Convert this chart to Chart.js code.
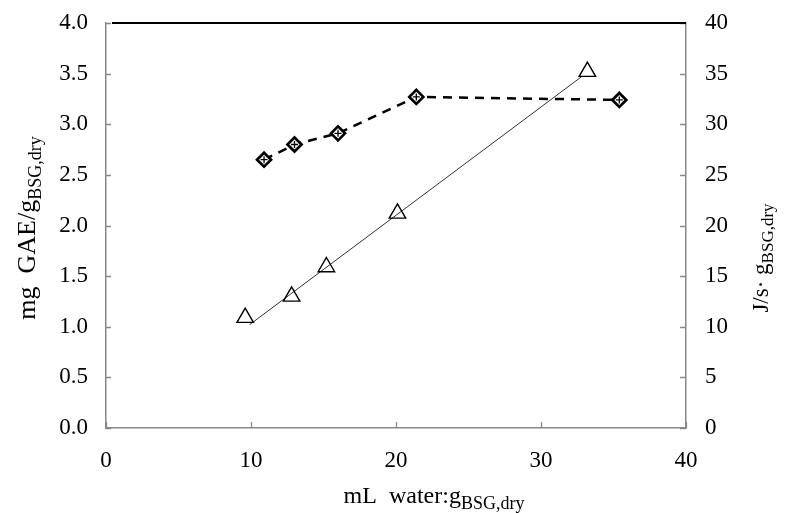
<!DOCTYPE html>
<html>
<head>
<meta charset="utf-8">
<script src="https://cdn.jsdelivr.net/npm/chart.js@4"></script>
<style>
  html, body { margin: 0; padding: 0; background: #fff; }
  #wrap { width: 788px; height: 513px; }
</style>
</head>
<body>
<div id="wrap"><canvas id="chart" width="788" height="513"></canvas></div>
<script>
// ==================== DATA ====================
// diamond series (dashed line)
const diamondX = [10.9, 13.0, 16.0, 21.4, 35.4];
const diamondY = [2.65, 2.80, 2.91, 3.27, 3.24];

// triangle series (markers only) + its straight trend line
const triangleX = [9.6, 12.8, 15.2, 20.1, 33.2];
const triangleY = [1.09, 1.30, 1.59, 2.12, 3.52];
const trendX = [9.9, 32.8];
const trendY = [1.02, 3.47];

const leftTicks = [0, 0.5, 1.0, 1.5, 2.0, 2.5, 3.0, 3.5, 4.0];
const rightTicks = [0, 5, 10, 15, 20, 25, 30, 35, 40];
const xTicks = [0, 10, 20, 30, 40];

const SERIF = '"Liberation Serif", "DejaVu Serif", serif';

function toPoints(xs, ys) {
    return xs.map((x, i) => ({ x: x, y: ys[i] }));
}

// ==================== PLUGINS ====================

// short inward tick marks + black top frame line
const frameTicks = {
    id: 'frameTicks',
    afterDatasetsDraw(chart) {
        const ctx = chart.ctx;
        const a = chart.chartArea;
        const sx = chart.scales.x, sy = chart.scales.y, sy1 = chart.scales.y1;
        ctx.save();
        ctx.strokeStyle = '#888';
        ctx.lineWidth = 1.3;
        ctx.beginPath();
        leftTicks.forEach(v => {
            const p = Math.round(sy.getPixelForValue(v)) + 0.5;
            ctx.moveTo(a.left, p); ctx.lineTo(a.left + 5, p);
        });
        rightTicks.forEach(v => {
            const p = Math.round(sy1.getPixelForValue(v)) + 0.5;
            ctx.moveTo(a.right, p); ctx.lineTo(a.right - 6, p);
        });
        xTicks.forEach(v => {
            const p = Math.round(sx.getPixelForValue(v)) + 0.5;
            ctx.moveTo(p, a.bottom); ctx.lineTo(p, a.bottom - 6);
        });
        ctx.stroke();
        // top line
        ctx.strokeStyle = '#000';
        ctx.lineWidth = 2;
        ctx.beginPath();
        ctx.moveTo(a.left + 6, a.top);
        ctx.lineTo(a.right, a.top);
        ctx.stroke();
        ctx.restore();
    }
};

// draw a label made of pieces, some of them subscripts
function drawRich(ctx, parts, cx, cy, rot) {
    ctx.save();
    ctx.translate(cx, cy);
    ctx.rotate(rot);
    let total = 0;
    parts.forEach(p => {
        ctx.font = p.size + 'px ' + SERIF;
        p.w = ctx.measureText(p.text).width;
        total += p.w;
    });
    let x = -total / 2;
    ctx.fillStyle = '#000';
    ctx.textBaseline = 'alphabetic';
    ctx.textAlign = 'left';
    parts.forEach(p => {
        ctx.font = p.size + 'px ' + SERIF;
        ctx.fillText(p.text, x, p.dy || 0);
        x += p.w;
    });
    ctx.restore();
}

const axisTitles = {
    id: 'axisTitles',
    afterDraw(chart) {
        const ctx = chart.ctx;
        drawRich(ctx, [
            { text: 'mg  GAE/g', size: 26 },
            { text: 'BSG,dry', size: 18, dy: 6 }
        ], 35, 228, -Math.PI / 2);
        drawRich(ctx, [
            { text: 'J/s\u00b7 g', size: 23 },
            { text: 'BSG,dry', size: 17, dy: 5 }
        ], 768, 258, -Math.PI / 2);
        drawRich(ctx, [
            { text: 'mL  water:g', size: 24 },
            { text: 'BSG,dry', size: 18, dy: 6 }
        ], 434, 503, 0);
    }
};

// vertical scales: no extra top/bottom room for the end labels
function fitVertical(width) {
    return s => {
        s.width = width;
        s.paddingTop = 0;
        s.paddingBottom = 0;
    };
}

// ==================== CHART ====================
const ctx = document.getElementById('chart').getContext('2d');

const chart = new Chart(ctx, {
    type: 'scatter',
    data: {
        datasets: [
            {
                label: 'diamonds',
                data: toPoints(diamondX, diamondY),
                showLine: true,
                borderColor: '#000',
                borderWidth: 2.5,
                borderDash: [9, 7],
                pointStyle: 'rectRot',
                pointRadius: 7,
                pointBorderWidth: 2.7,
                pointBackgroundColor: '#fff',
                pointBorderColor: '#000',
                order: 2
            },
            {
                label: 'diamond marks',
                data: toPoints(diamondX, diamondY),
                showLine: false,
                pointStyle: 'cross',
                pointRadius: 3.5,
                pointBorderWidth: 1.3,
                pointBorderColor: '#000',
                order: 1
            },
            {
                label: 'trend',
                data: toPoints(trendX, trendY),
                showLine: true,
                borderColor: '#333',
                borderWidth: 1,
                pointRadius: 0,
                order: 4
            },
            {
                label: 'triangles',
                data: toPoints(triangleX, triangleY),
                showLine: false,
                pointStyle: 'triangle',
                pointRadius: 9.5,
                pointBorderWidth: 1.4,
                pointBackgroundColor: 'rgba(255,255,255,0)',
                pointBorderColor: '#000',
                order: 3
            }
        ]
    },
    options: {
        responsive: false,
        animation: false,
        layout: { padding: { top: 23, left: 0, right: 0, bottom: 0 } },
        plugins: {
            legend: { display: false },
            tooltip: { enabled: false }
        },
        scales: {
            x: {
                type: 'linear',
                min: 0, max: 40,
                afterBuildTicks: s => { s.ticks = xTicks.map(v => ({ value: v })); },
                ticks: { color: '#000', font: { family: SERIF, size: 23 }, padding: 19, maxRotation: 0 },
                grid: { display: true, drawOnChartArea: false, drawTicks: false },
                border: { display: true, color: '#888', width: 1.5 },
                afterFit: s => { s.height = 85; s.paddingLeft = 0; s.paddingRight = 0; }
            },
            y: {
                type: 'linear',
                position: 'left',
                min: 0, max: 4,
                afterBuildTicks: s => { s.ticks = leftTicks.map(v => ({ value: v })); },
                ticks: { color: '#000', font: { family: SERIF, size: 23 }, padding: 18, callback: v => v.toFixed(1) },
                grid: { display: true, drawOnChartArea: false, drawTicks: false },
                border: { display: true, color: '#888', width: 1.5 },
                afterFit: fitVertical(106)
            },
            y1: {
                type: 'linear',
                position: 'right',
                min: 0, max: 40,
                afterBuildTicks: s => { s.ticks = rightTicks.map(v => ({ value: v })); },
                ticks: { color: '#000', font: { family: SERIF, size: 23 }, padding: 19 },
                grid: { display: true, drawOnChartArea: false, drawTicks: false },
                border: { display: true, color: '#888', width: 1.5 },
                afterFit: fitVertical(102)
            }
        }
    },
    plugins: [frameTicks, axisTitles]
});
</script>
</body>
</html>
